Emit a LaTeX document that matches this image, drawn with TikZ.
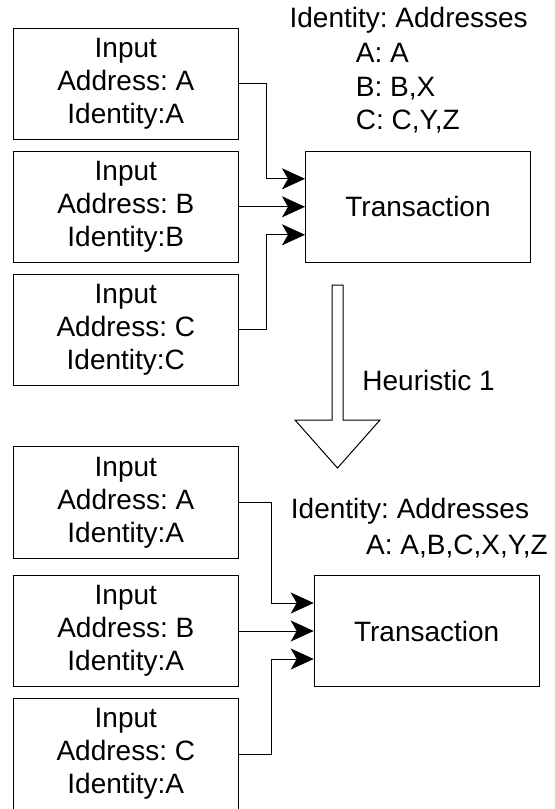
\documentclass[tikz,border=0pt]{standalone}
\usepackage{fontspec}
\setmainfont{Liberation Sans}
\usetikzlibrary{arrows.meta}
\frenchspacing

\begin{document}
\begin{tikzpicture}[x=0.5pt, y=-0.5pt,
		every node/.style={font=\fontsize{14}{16.6}\selectfont},
		inbox/.style={draw, line width=0.5pt, minimum width=112.5pt, minimum height=55.75pt, align=center, inner sep=0pt},
		txbox/.style={draw, line width=0.5pt, minimum width=112.5pt, minimum height=55.75pt, inner sep=0pt},
		plain/.style={inner sep=0pt, align=left},
		conn/.style={line width=0.5pt, -{Stealth[length=11.5pt, width=10.5pt, inset=3pt]}}]
		\useasboundingbox (0,0) rectangle (554,809);
		\node[inbox] (inA1) at (125.8,83.8) {Input\\Address: A\\Identity:A};
		\node[inbox] (inB1) at (125.8,206.8) {Input\\Address: B\\Identity:B};
		\node[inbox] (inC1) at (125.8,329.8) {Input\\Address: C\\Identity:C};
		\node[txbox] (tx1) at (418,206.8) {Transaction};
		\node[plain] (ids1) at (408.7,20) {Identity: Addresses};
		\node[plain, anchor=west, font=\fontsize{14}{16.7}\selectfont] (map1) at (355.5,88.5) {A: A\\B: B,X\\C: C,Y,Z};
		\draw[conn] (inA1.east) -- ++(28,0) |- ([yshift=14pt]tx1.west);
		\draw[conn] (inB1.east) -- (tx1.west);
		\draw[conn] (inC1.east) -- ++(28,0) |- ([yshift=-14pt]tx1.west);
		\draw[line width=0.5pt] (332,285) -- (343,285) -- (343,420) -- (380,420) -- (337.5,468) -- (295,420) -- (332,420) -- cycle;
		\node[plain, anchor=west] (heur) at (362,380) {Heuristic 1};
		\node[inbox] (inA2) at (125.8,502.5) {Input\\Address: A\\Identity:A};
		\node[inbox] (inB2) at (125.8,631) {Input\\Address: B\\Identity:A};
		\node[inbox] (inC2) at (125.8,754) {Input\\Address: C\\Identity:A};
		\node[txbox] (tx2) at (426.7,631) {Transaction};
		\node[plain] (ids2) at (410,511) {Identity: Addresses};
		\node[plain, anchor=west] (map2) at (365.8,547) {A: A,B,C,X,Y,Z};
		\draw[conn] (inA2.east) -- ++(33,0) |- ([yshift=14pt]tx2.west);
		\draw[conn] (inB2.east) -- (tx2.west);
		\draw[conn] (inC2.east) -- ++(33,0) |- ([yshift=-14pt]tx2.west);
	\end{tikzpicture}
\end{document}
